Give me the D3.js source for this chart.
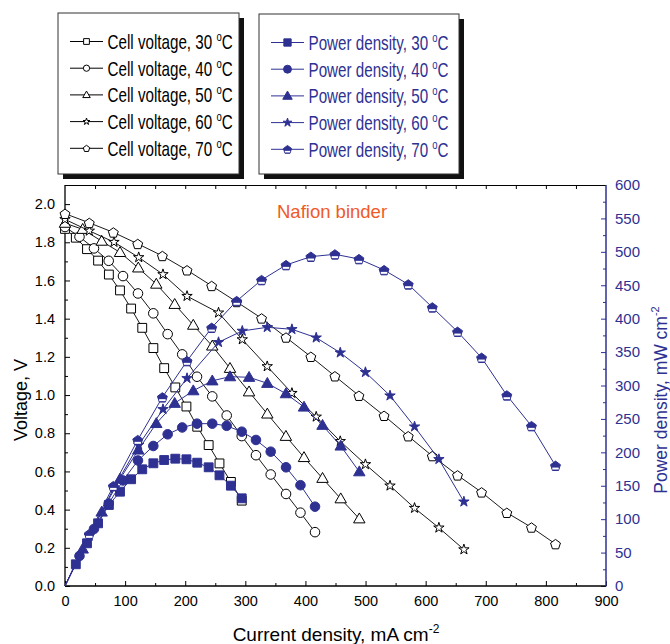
<!DOCTYPE html>
<html>
<head>
<meta charset="utf-8">
<script src="https://cdn.jsdelivr.net/npm/d3@7"></script>
<style>
  body { margin: 0; background: #fff; }
  svg { display: block; font-family: "Liberation Sans", Arial, Helvetica, sans-serif; }
</style>
</head>
<body>
<svg id="chart" width="670" height="644"></svg>
<script>
// current density (mA cm-2), cell voltage (V), power density (mW cm-2)
const current30 = [0, 18, 36.6, 55, 73, 91.5, 110, 128.5, 147, 165, 183.5, 202, 220, 239, 257, 276, 294];
const volt30 = [1.87, 1.824, 1.764, 1.704, 1.631, 1.548, 1.453, 1.352, 1.246, 1.141, 1.040, 0.940, 0.834, 0.738, 0.642, 0.545, 0.447];
const power30 = [0, 32.5, 63.9, 93.8, 121.2, 141.1, 159.7, 174.6, 183.6, 188.5, 190.5, 189.6, 184.5, 177.6, 165.6, 150.1, 131.2];

const current40 = [0, 24.1, 48.2, 72.7, 96.5, 121.4, 146.9, 170.8, 195, 219.6, 245, 269, 294, 317.7, 342.2, 367.7, 391.7, 415.9];
const volt40 = [1.88, 1.829, 1.768, 1.703, 1.623, 1.532, 1.428, 1.319, 1.213, 1.096, 0.993, 0.893, 0.785, 0.685, 0.584, 0.482, 0.384, 0.282];
const power40 = [0, 44.9, 85.3, 123.4, 157.9, 187.8, 209.5, 227, 237.2, 242.9, 242.9, 239.7, 230.9, 218.5, 201, 177.6, 150.8, 118.7];

const current50 = [0, 29.4, 61, 91.5, 121.9, 151.9, 182.5, 213.4, 245, 274.5, 306.2, 336.6, 367.5, 397.6, 428.4, 458.7, 489.6];
const volt50 = [1.90, 1.868, 1.806, 1.747, 1.666, 1.581, 1.475, 1.366, 1.257, 1.140, 1.017, 0.901, 0.784, 0.673, 0.564, 0.457, 0.352];
const power50 = [0, 55.4, 110.7, 160, 203.5, 243.2, 273.4, 292.2, 307, 313.2, 312.3, 303.3, 287.8, 267.8, 240.5, 209.5, 171];

const current60 = [0, 40.4, 81.5, 122.6, 163, 203, 255.4, 294.9, 336.4, 377.5, 417.9, 457.9, 499.8, 540.7, 581.5, 622, 663.6];
const volt60 = [1.92, 1.860, 1.801, 1.721, 1.632, 1.518, 1.431, 1.291, 1.150, 1.010, 0.886, 0.758, 0.637, 0.525, 0.408, 0.305, 0.191];
const power60 = [0, 75, 147, 211, 264.4, 310.8, 364.7, 381.6, 387.1, 384.1, 371.5, 349.1, 319.8, 284.8, 238.4, 189.6, 126.1];

const current70 = [0, 40.4, 80.4, 121, 162, 203, 244, 285.6, 327, 367.7, 409, 449, 489, 530.8, 571, 611, 653, 693, 735, 776, 816];
const volt70 = [1.95, 1.902, 1.852, 1.792, 1.729, 1.654, 1.572, 1.488, 1.402, 1.302, 1.201, 1.099, 0.997, 0.892, 0.785, 0.681, 0.580, 0.491, 0.384, 0.307, 0.220];
const power70 = [0, 77.8, 149.6, 218.5, 282.4, 336.7, 386.5, 426.5, 457.9, 480.3, 492.8, 496.3, 489.3, 472.8, 451.4, 417, 380.5, 341.6, 285.3, 239.4, 180];

const temps = [30, 40, 50, 60, 70];
const shapes = ["square", "circle", "triangle", "star", "pentagon"];
const xTicks = [0, 100, 200, 300, 400, 500, 600, 700, 800, 900];
const yTicksLeft = [0, 0.2, 0.4, 0.6, 0.8, 1.0, 1.2, 1.4, 1.6, 1.8, 2.0];
const yTicksRight = [0, 50, 100, 150, 200, 250, 300, 350, 400, 450, 500, 550, 600];

const series = [
  { t: 30, shape: "square", I: current30, V: volt30, P: power30 },
  { t: 40, shape: "circle", I: current40, V: volt40, P: power40 },
  { t: 50, shape: "triangle", I: current50, V: volt50, P: power50 },
  { t: 60, shape: "star", I: current60, V: volt60, P: power60 },
  { t: 70, shape: "pentagon", I: current70, V: volt70, P: power70 },
];

const BLUE = "#2e3192";
const svg = d3.select("#chart");

const x = d3.scaleLinear().domain([0, 900]).range([65, 606]);
const yL = d3.scaleLinear().domain([0, 2.1]).range([586, 185]);
const yR = d3.scaleLinear().domain([0, 600]).range([586, 185]);

// marker path, r is roughly the half-width in px
function markerPath(shape, r) {
  if (shape === "pentagon") {
    const pts = d3.range(5).map(k => {
      const a = -Math.PI / 2 + k * 2 * Math.PI / 5;
      return [r * Math.cos(a), r * Math.sin(a) + r * 0.12];
    });
    return "M" + pts.map(p => p.join(",")).join("L") + "Z";
  }
  const types = { square: d3.symbolSquare, circle: d3.symbolCircle, triangle: d3.symbolTriangle, star: d3.symbolStar };
  let size;
  if (shape === "square") size = (2 * r * 0.85) ** 2;
  else if (shape === "circle") size = Math.PI * (r * 0.92) ** 2;
  else if (shape === "triangle") { const yy = r * 1.1 / Math.sqrt(3); size = yy * yy * 3 * Math.sqrt(3); }
  else size = (r * 1.05) ** 2 / 0.8908130915292852;
  return d3.symbol(types[shape], size)();
}

function drawMarker(g, shape, r, filled) {
  const tr = shape === "triangle" ? "translate(0," + (r * 0.15) + ")" : null;
  g.append("path")
    .attr("d", markerPath(shape, r))
    .attr("transform", tr)
    .attr("fill", filled ? BLUE : "#fff")
    .attr("stroke", filled ? BLUE : "#000")
    .attr("stroke-width", 1);
  if (filled && shape === "pentagon") {
    g.append("line")
      .attr("x1", -r * 0.62).attr("x2", r * 0.62)
      .attr("y1", r * 0.55).attr("y2", r * 0.55)
      .attr("stroke", "#fff").attr("stroke-width", r * 0.38);
  }
}

// axes: ticks pointing inward
const plot = svg.append("g");

function styleAxis(g, color) {
  g.select(".domain").remove();
  g.selectAll("line").attr("stroke", color);
  g.selectAll("text").attr("fill", color).attr("font-size", 14.5).attr("font-family", "Liberation Sans, Arial, sans-serif");
}

plot.append("g").attr("transform", "translate(0,586)")
  .call(d3.axisBottom(x).tickValues(d3.range(50, 900, 100)).tickSize(-3).tickFormat(""))
  .call(g => styleAxis(g, "#000"));
plot.append("g").attr("transform", "translate(0,586)")
  .call(d3.axisBottom(x).tickValues(xTicks).tickSize(-5).tickPadding(10).tickFormat(d3.format("d")))
  .call(g => styleAxis(g, "#000"));
plot.append("g").attr("transform", "translate(0,185)")
  .call(d3.axisTop(x).tickValues(d3.range(50, 900, 50)).tickSize(-4).tickFormat(""))
  .call(g => styleAxis(g, "#000"));

plot.append("g").attr("transform", "translate(65,0)")
  .call(d3.axisLeft(yL).tickValues(d3.range(0.1, 2.1, 0.2)).tickSize(-3).tickFormat(""))
  .call(g => styleAxis(g, "#000"));
plot.append("g").attr("transform", "translate(65,0)")
  .call(d3.axisLeft(yL).tickValues(yTicksLeft).tickSize(-5).tickPadding(10).tickFormat(d3.format(".1f")))
  .call(g => styleAxis(g, "#000"));

plot.append("g").attr("transform", "translate(606,0)")
  .call(d3.axisRight(yR).tickValues(d3.range(25, 600, 50)).tickSize(-3).tickFormat(""))
  .call(g => styleAxis(g, BLUE));
plot.append("g").attr("transform", "translate(606,0)")
  .call(d3.axisRight(yR).tickValues(yTicksRight).tickSize(-5).tickPadding(9).tickFormat(d3.format("d")))
  .call(g => styleAxis(g, BLUE))
  .call(g => g.selectAll("text").attr("font-size", 15));

// frame
plot.append("line").attr("x1", 65).attr("x2", 606).attr("y1", 185.5).attr("y2", 185.5).attr("stroke", "#000").attr("stroke-width", 1.2);
plot.append("line").attr("x1", 65).attr("x2", 606).attr("y1", 586).attr("y2", 586).attr("stroke", "#000").attr("stroke-width", 1.3);
plot.append("line").attr("x1", 65).attr("x2", 65).attr("y1", 185).attr("y2", 586).attr("stroke", "#000").attr("stroke-width", 1.3);
plot.append("line").attr("x1", 606).attr("x2", 606).attr("y1", 185).attr("y2", 586.6).attr("stroke", BLUE).attr("stroke-width", 1.5);

// voltage curves first, power curves on top
const lineV = d3.line().x(d => x(d[0])).y(d => yL(d[1]));
const lineP = d3.line().x(d => x(d[0])).y(d => yR(d[1]));

series.forEach(s => {
  const pts = s.I.map((c, i) => [c, s.V[i]]);
  plot.append("path").attr("d", lineV(pts)).attr("fill", "none").attr("stroke", "#000").attr("stroke-width", 0.9);
  pts.forEach(p => drawMarker(plot.append("g").attr("transform", `translate(${x(p[0])},${yL(p[1])})`), s.shape, 5.2, false));
});

series.forEach(s => {
  const pts = s.I.map((c, i) => [c, s.P[i]]);
  plot.append("path").attr("d", lineP(pts)).attr("fill", "none").attr("stroke", BLUE).attr("stroke-width", 1);
  pts.slice(1).forEach(p => drawMarker(plot.append("g").attr("transform", `translate(${x(p[0])},${yR(p[1])})`), s.shape, 5.2, true));
});

// axis titles
svg.append("text")
  .attr("transform", "translate(27,400) rotate(-90)")
  .attr("text-anchor", "middle").attr("font-size", 18).attr("fill", "#000")
  .text("Voltage, V");

const xt = svg.append("text").attr("x", 336).attr("y", 641).attr("text-anchor", "middle").attr("font-size", 19).attr("fill", "#000");
xt.append("tspan").text("Current density, mA cm");
xt.append("tspan").attr("dy", -8).attr("font-size", 12).text("-2");

const yt = svg.append("text").attr("transform", "translate(667,400) rotate(-90)").attr("text-anchor", "middle").attr("font-size", 17.5).attr("fill", BLUE);
yt.append("tspan").text("Power density, mW cm");
yt.append("tspan").attr("dy", -8).attr("font-size", 11).text("-2");

svg.append("text").attr("x", 277).attr("y", 218).attr("font-size", 18.5).attr("fill", "#f05a28").text("Nafion binder");

// legends
function legendBox(x0, y0, w, h, filled, label, color) {
  const g = svg.append("g");
  g.append("rect").attr("x", x0 + 5).attr("y", y0 + 5).attr("width", w).attr("height", h).attr("fill", "#111");
  g.append("rect").attr("x", x0).attr("y", y0).attr("width", w).attr("height", h).attr("fill", "#fff").attr("stroke", "#333").attr("stroke-width", 1);
  temps.forEach((t, i) => {
    const cy = y0 + 28.5 + i * 26.7;
    const lx = x0 + 12;
    g.append("line").attr("x1", lx).attr("x2", lx + 33).attr("y1", cy).attr("y2", cy).attr("stroke", color).attr("stroke-width", 1);
    drawMarker(g.append("g").attr("transform", `translate(${lx + 16.5},${cy})`), shapes[i], filled ? 4.3 : 3.4, filled);
    const tg = g.append("g").attr("transform", `translate(${lx + 37.5},${cy + 7.5}) scale(0.76,1)`);
    const tx = tg.append("text").attr("font-size", 20).attr("fill", color);
    tx.append("tspan").text(`${label}, ${t} `);
    tx.append("tspan").attr("dy", -8).attr("font-size", 12.5).text("o");
    tx.append("tspan").attr("dy", 8).text("C");
  });
}
legendBox(58, 13, 181, 161, false, "Cell voltage", "#000");
legendBox(259, 14, 200, 160, true, "Power density", BLUE);
</script>
</body>
</html>
